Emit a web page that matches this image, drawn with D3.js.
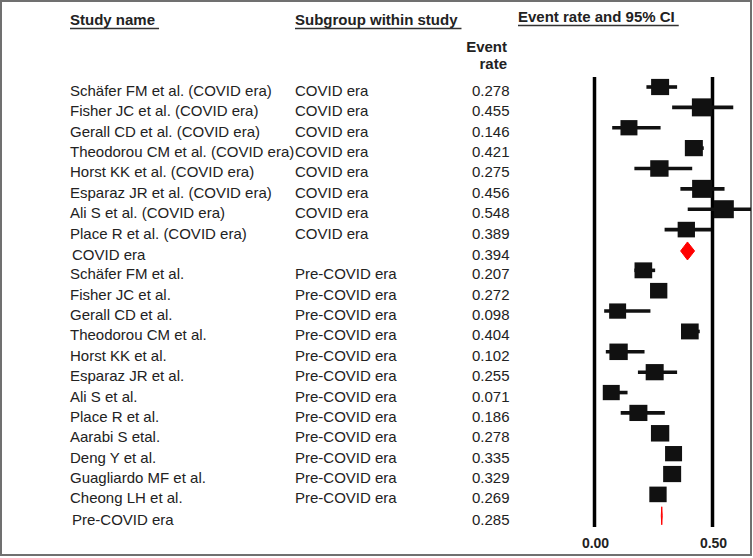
<!DOCTYPE html>
<html>
<head>
<meta charset="utf-8">
<script src="https://cdn.jsdelivr.net/npm/d3@7"></script>
<style>
  html, body { margin: 0; padding: 0; background: #fff; }
  svg { display: block; font-family: "Liberation Sans", Arial, sans-serif; }
</style>
</head>
<body>
<svg id="chart" width="753" height="558"></svg>
<script>
// ---- data ----
const studyNames = [
  "Schäfer FM et al. (COVID era)", "Fisher JC et al. (COVID era)", "Gerall CD et al. (COVID era)",
  "Theodorou CM et al. (COVID era)", "Horst KK et al. (COVID era)", "Esparaz JR et al. (COVID era)",
  "Ali S et al. (COVID era)", "Place R et al. (COVID era)", "COVID era",
  "Schäfer FM et al.", "Fisher JC et al.", "Gerall CD et al.", "Theodorou CM et al.",
  "Horst KK et al.", "Esparaz JR et al.", "Ali S et al.", "Place R et al.",
  "Aarabi S etal.", "Deng Y et al.", "Guagliardo MF et al.", "Cheong LH et al.", "Pre-COVID era"
];
const subgroups = [
  "COVID era", "COVID era", "COVID era", "COVID era", "COVID era", "COVID era", "COVID era", "COVID era", "",
  "Pre-COVID era", "Pre-COVID era", "Pre-COVID era", "Pre-COVID era", "Pre-COVID era", "Pre-COVID era",
  "Pre-COVID era", "Pre-COVID era", "Pre-COVID era", "Pre-COVID era", "Pre-COVID era", "Pre-COVID era", ""
];
const isSummary = [false,false,false,false,false,false,false,false,true,
  false,false,false,false,false,false,false,false,false,false,false,false,true];
const eventRates = [0.278, 0.455, 0.146, 0.421, 0.275, 0.456, 0.548, 0.389, 0.394,
  0.207, 0.272, 0.098, 0.404, 0.102, 0.255, 0.071, 0.186, 0.278, 0.335, 0.329, 0.269, 0.285];
const lowerCI = [0.220, 0.329, 0.075, 0.385, 0.169, 0.364, 0.395, 0.297, 0.365,
  0.169, 0.245, 0.041, 0.370, 0.048, 0.184, 0.040, 0.111, 0.260, 0.312, 0.306, 0.250, 0.283];
const upperCI = [0.350, 0.588, 0.280, 0.463, 0.414, 0.551, 0.700, 0.494, 0.424,
  0.257, 0.300, 0.237, 0.446, 0.212, 0.350, 0.140, 0.298, 0.297, 0.358, 0.352, 0.290, 0.287];
const weights = [4.05, 5.0, 3.6, 4.05, 4.2, 5.0, 5.0, 3.75, null,
  3.9, 3.75, 3.6, 3.9, 4.2, 4.05, 3.6, 4.05, 4.2, 3.6, 4.05, 3.75, null];
const xTicks = [0.0, 0.5];
const headers = ["Study name", "Subgroup within study", "Event rate and 95% CI"];
const colHeader = ["Event", "rate"];

// ---- drawing ----
const svg = d3.select("#chart");
const FONT = 15;

// frame
svg.append("rect").attr("x", 1).attr("y", 1).attr("width", 750).attr("height", 554)
  .attr("fill", "none").attr("stroke", "#707070").attr("stroke-width", 2);

const x = d3.scaleLinear().domain([0, 0.5]).range([594.5, 712.5]);
const y = d3.scaleLinear().domain([0, studyNames.length - 1]).range([87, 87 + 21 * 20.37]);
const boxW = d3.scaleSqrt().domain([0, 5]).range([0, 20]);

// headers
const headerX = [70, 295, 518];
const headerY = [25, 25, 22];
headers.forEach((h, i) => {
  const t = svg.append("text").attr("x", headerX[i]).attr("y", headerY[i])
    .attr("font-size", FONT).attr("font-weight", "bold").attr("fill", "#222").text(h);
  const w = t.node().getComputedTextLength();
  svg.append("line").attr("x1", headerX[i]).attr("x2", headerX[i] + w + 4)
    .attr("y1", headerY[i] + 3.5).attr("y2", headerY[i] + 3.5)
    .attr("stroke", "#333").attr("stroke-width", 1.6);
});
colHeader.forEach((h, i) => {
  svg.append("text").attr("x", 507).attr("y", 52 + i * 16.5).attr("text-anchor", "end")
    .attr("font-size", FONT).attr("font-weight", "bold").attr("fill", "#222").text(h);
});

// text columns
const rows = studyNames.map((n, i) => ({
  i, name: n, sub: subgroups[i], rate: eventRates[i], lo: lowerCI[i], hi: upperCI[i],
  w: weights[i], summary: isSummary[i]
}));

svg.selectAll("text.name").data(rows).join("text").attr("class", "name")
  .attr("x", d => d.summary ? 72 : 70).attr("y", d => y(d.i) + 9 + (d.summary ? 1 : 0))
  .attr("font-size", FONT).attr("fill", "#222").text(d => d.name);
svg.selectAll("text.sub").data(rows).join("text").attr("class", "sub")
  .attr("x", 295).attr("y", d => y(d.i) + 9)
  .attr("font-size", FONT).attr("fill", "#222").text(d => d.sub);
svg.selectAll("text.rate").data(rows).join("text").attr("class", "rate")
  .attr("x", 509.5).attr("y", d => y(d.i) + 9 + (d.summary ? 1 : 0)).attr("text-anchor", "end")
  .attr("font-size", FONT).attr("fill", "#222").text(d => d.rate.toFixed(3));

// plot
const clip = svg.append("clipPath").attr("id", "plotclip");
clip.append("rect").attr("x", 560).attr("y", 60).attr("width", 191).attr("height", 480);
const plot = svg.append("g").attr("clip-path", "url(#plotclip)");

// reference lines
plot.selectAll("line.ref").data(xTicks).join("line").attr("class", "ref")
  .attr("x1", d => x(d)).attr("x2", d => x(d)).attr("y1", 77).attr("y2", 527)
  .attr("stroke", "#000").attr("stroke-width", 3.5);

const studies = rows.filter(d => !d.summary);
plot.selectAll("line.ci").data(studies).join("line").attr("class", "ci")
  .attr("x1", d => x(d.lo)).attr("x2", d => x(d.hi))
  .attr("y1", d => y(d.i)).attr("y2", d => y(d.i))
  .attr("stroke", "#111").attr("stroke-width", 3.6);
plot.selectAll("rect.box").data(studies).join("rect").attr("class", "box")
  .attr("x", d => x(d.rate) - boxW(d.w) / 2)
  .attr("y", d => y(d.i) - boxW(d.w) * 0.45)
  .attr("width", d => boxW(d.w)).attr("height", d => boxW(d.w) * 0.9)
  .attr("fill", "#111");

const sums = rows.filter(d => d.summary);
plot.selectAll("path.diamond").data(sums).join("path").attr("class", "diamond")
  .attr("d", d => {
    const cy = y(d.i) + 1, h = 9;
    return `M${x(d.lo)},${cy} L${x(d.rate)},${cy - h} L${x(d.hi)},${cy} L${x(d.rate)},${cy + h} Z`;
  })
  .attr("fill", "#f00").attr("stroke", "#f00").attr("stroke-width", 1);

// tick labels
svg.selectAll("text.tick").data(xTicks).join("text").attr("class", "tick")
  .attr("x", d => x(d) + 1).attr("y", 548).attr("text-anchor", "middle")
  .attr("font-size", FONT - 1).attr("font-weight", "bold").attr("fill", "#222")
  .text(d => d3.format(".2f")(d));
</script>
</body>
</html>
